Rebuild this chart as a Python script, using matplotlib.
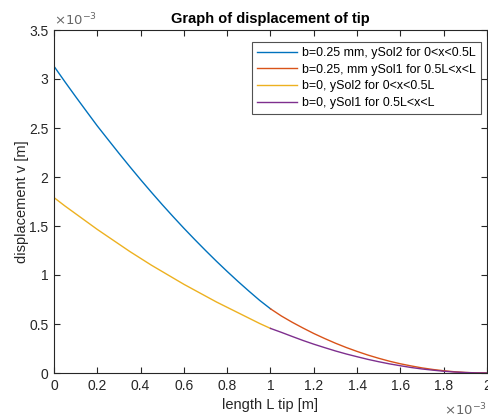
import numpy as np
import matplotlib.pyplot as plt
from matplotlib.ticker import FuncFormatter

plt.rcParams['font.family'] = ['Liberation Sans', 'DejaVu Sans']

# values, in units of 1e-3 m
x_first = [0.0, 0.05, 0.1, 0.15, 0.2, 0.25, 0.3, 0.35, 0.4, 0.45, 0.5,
           0.55, 0.6, 0.65, 0.7, 0.75, 0.8, 0.85, 0.9, 0.95, 1.0]
x_second = [1.0, 1.05, 1.1, 1.15, 1.2, 1.25, 1.3, 1.35, 1.4, 1.45, 1.5,
            1.55, 1.6, 1.65, 1.7, 1.75, 1.8, 1.85, 1.9, 1.95, 2.0]

b025_sol2 = [3.13, 2.973, 2.82, 2.67, 2.521, 2.381, 2.242, 2.106, 1.973, 1.844, 1.718,
             1.596, 1.477, 1.362, 1.25, 1.141, 1.036, 0.934, 0.836, 0.741, 0.655]
b025_sol1 = [0.655, 0.582, 0.518, 0.459, 0.403, 0.352, 0.304, 0.26, 0.22, 0.183, 0.15,
             0.12, 0.094, 0.072, 0.052, 0.036, 0.023, 0.0127, 0.0056, 0.0014, 0.0]
b0_sol2 = [1.79, 1.705, 1.625, 1.545, 1.465, 1.39, 1.315, 1.24, 1.17, 1.1, 1.035,
           0.97, 0.905, 0.845, 0.785, 0.725, 0.67, 0.615, 0.56, 0.505, 0.455]
b0_sol1 = [0.455, 0.415, 0.373, 0.332, 0.294, 0.259, 0.225, 0.194, 0.166, 0.139, 0.115,
           0.093, 0.074, 0.056, 0.041, 0.029, 0.018, 0.01, 0.0046, 0.0012, 0.0]

labels = ['b=0.25 mm, ySol2 for 0<x<0.5L',
          'b=0.25, mm ySol1 for 0.5L<x<L',
          'b=0, ySol2 for 0<x<0.5L',
          'b=0, ySol1 for 0.5L<x<L']
colors = ['#0072BD', '#D95319', '#EDB120', '#7E2F8E']

scale = 1e-3
axis_col = '#262626'

fig = plt.figure(figsize=(4.89, 4.19), dpi=100)
ax = fig.add_axes([54 / 489, 46 / 419, 433 / 489, 343 / 419])

series = [(x_first, b025_sol2), (x_second, b025_sol1),
          (x_first, b0_sol2), (x_second, b0_sol1)]
for (xs, ys), lab, col in zip(series, labels, colors):
    ax.plot(np.array(xs) * scale, np.array(ys) * scale, color=col, lw=1.0, label=lab)

ax.set_xlim(0, 2e-3)
ax.set_ylim(0, 3.5e-3)
ax.set_xticks(np.arange(0, 2.01, 0.2) * scale)
ax.set_yticks(np.arange(0, 3.51, 0.5) * scale)
fmt = FuncFormatter(lambda v, p: f"{round(v / scale, 2):g}")
ax.xaxis.set_major_formatter(fmt)
ax.yaxis.set_major_formatter(fmt)

ax.tick_params(direction='in', length=4, width=0.8, top=True, right=True,
               labelsize=10, colors=axis_col, pad=4)
for sp in ax.spines.values():
    sp.set_color(axis_col)
    sp.set_linewidth(0.8)

ax.set_title('Graph of displacement of tip', fontsize=10.5, fontweight='bold', pad=5)
ax.set_xlabel('length L tip [m]', fontsize=10.5, color=axis_col, labelpad=4)
ax.set_ylabel('displacement v [m]', fontsize=10.5, color=axis_col, labelpad=0)

ax.text(0.0, 1.005, r'$\times10^{-3}$', transform=ax.transAxes, fontsize=9.5,
        color='#666666', ha='left', va='bottom')
ax.text(1.0, -0.083, r'$\times10^{-3}$', transform=ax.transAxes, fontsize=9.5,
        color='#666666', ha='right', va='top')

leg = ax.legend(loc='upper right', bbox_to_anchor=(0.985, 0.965), fontsize=8.9,
                frameon=True, fancybox=False, edgecolor=axis_col, handlelength=3.3,
                handletextpad=0.35, borderpad=0.4, labelspacing=0.38, borderaxespad=0)
leg.get_frame().set_linewidth(0.8)

fig.savefig('out.png', dpi=100)
